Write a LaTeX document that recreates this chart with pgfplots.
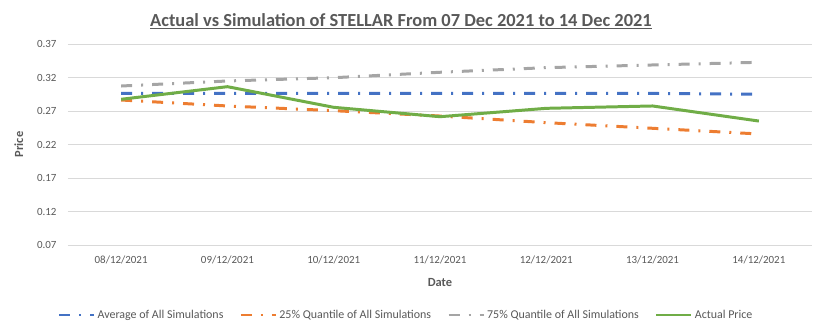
\documentclass[border=0pt]{standalone}
\usepackage{pgfplots}
\pgfplotsset{compat=1.18}
\usepackage{fontspec}
\setmainfont{Carlito}
\definecolor{cblue}{HTML}{4472C4}
\definecolor{corange}{HTML}{ED7D31}
\definecolor{cgray}{HTML}{A5A5A5}
\definecolor{cgreen}{HTML}{70AD47}
\definecolor{tickgray}{HTML}{595959}
\definecolor{gridgray}{HTML}{D9D9D9}
\begin{document}
\begin{tikzpicture}
\path[use as bounding box] (-68bp,-85bp) rectangle (756bp,245bp);
\begin{axis}[
  at={(0,0)}, anchor=south west,
  scale only axis, width=744bp, height=201bp,
  xmin=-0.5, xmax=6.5, ymin=0.07, ymax=0.37,
  xtick={0,1,2,3,4,5,6},
  xticklabels={08/12/2021,09/12/2021,10/12/2021,11/12/2021,12/12/2021,13/12/2021,14/12/2021},
  ytick={0.07,0.12,0.17,0.22,0.27,0.32,0.37},
  yticklabel style={/pgf/number format/fixed,/pgf/number format/precision=2,/pgf/number format/fixed zerofill, xshift=-8bp},
  xticklabel style={yshift=-7bp},
  /pgf/number format/assume math mode=true,
  tick label style={font=\fontsize{11}{13}\selectfont, text=tickgray},
  major tick length=0pt,
  axis line style={draw=none},
  ymajorgrids, grid style={gridgray, line width=0.8pt},
  xlabel={\textbf{Date}}, ylabel={\textbf{Price}},
  label style={font=\fontsize{12.5}{14}\selectfont, text=tickgray},
  xlabel style={yshift=-8bp},
  ylabel style={yshift=7bp},
  title={\textbf{\underline{Actual vs Simulation of STELLAR From 07 Dec 2021 to 14 Dec 2021}}},
  title style={font=\fontsize{18.5}{22}\selectfont, text=tickgray, xshift=-39bp, yshift=6bp},
  legend style={at={(axis description cs:0.5,0)}, anchor=center, xshift=-34bp, yshift=-70bp,
    draw=none, font=\fontsize{12}{14}\selectfont, text=tickgray, /tikz/every even column/.append style={column sep=14bp}},
  legend columns=4,
  legend image code/.code={\draw[#1] (0bp,0bp) -- (35bp,0bp);},
]
\addplot[cblue, line width=3pt, dash pattern=on 11bp off 9bp on 2bp off 9bp] coordinates {
(0,0.2964) (1,0.2964) (2,0.2964) (3,0.2964) (4,0.2964) (5,0.2962) (6,0.2950)};
\addlegendentry{Average of All Simulations}
\addplot[corange, line width=3pt, dash pattern=on 11bp off 9bp on 2bp off 9bp] coordinates {
(0,0.2864) (1,0.2775) (2,0.2705) (3,0.2625) (4,0.2526) (5,0.2442) (6,0.2357)};
\addlegendentry{25\% Quantile of All Simulations}
\addplot[cgray, line width=3pt, dash pattern=on 11bp off 9bp on 2bp off 9bp] coordinates {
(0,0.3073) (1,0.3148) (2,0.3197) (3,0.3278) (4,0.3347) (5,0.3387) (6,0.3427)};
\addlegendentry{75\% Quantile of All Simulations}
\addplot[cgreen, line width=3pt] coordinates {
(0,0.2875) (1,0.3063) (2,0.2755) (3,0.2615) (4,0.2740) (5,0.2775) (6,0.2550)};
\addlegendentry{Actual Price}
\end{axis}
\end{tikzpicture}
\end{document}
